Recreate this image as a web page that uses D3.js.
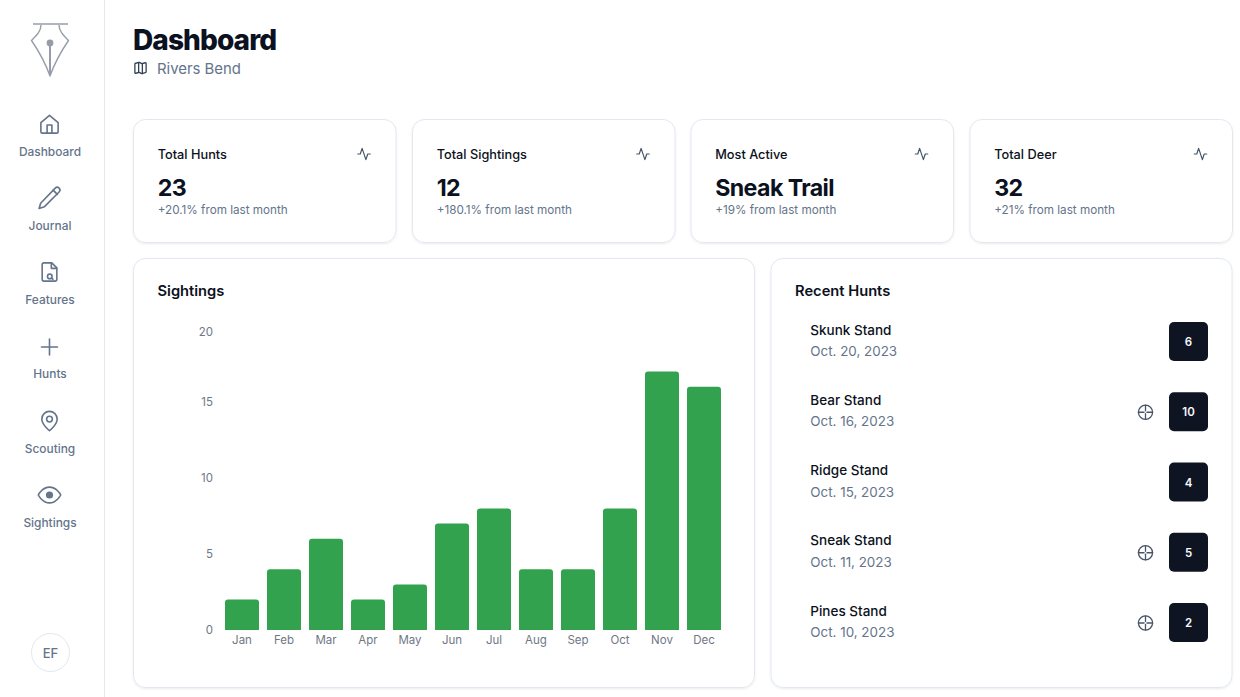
<!DOCTYPE html>
<html>
<head>
<meta charset="utf-8">
<title>Dashboard</title>
<script src="https://cdn.jsdelivr.net/npm/d3@7"></script>
<style>
  html, body { margin: 0; padding: 0; background: #fff; overflow: hidden; }
  text { font-family: Inter, "Noto Sans", sans-serif; }
</style>
</head>
<body>
<svg id="page" width="1240" height="697"></svg>
<script>
// Chart data
const months = ["Jan", "Feb", "Mar", "Apr", "May", "Jun", "Jul", "Aug", "Sep", "Oct", "Nov", "Dec"];
const sightings = [2, 4, 6, 2, 3, 7, 8, 4, 4, 8, 17, 16];
const yTicks = [0, 5, 10, 15, 20];

// Stat cards
const statTitles = ["Total Hunts", "Total Sightings", "Most Active", "Total Deer"];
const statValues = ["23", "12", "Sneak Trail", "32"];
const statNotes = ["+20.1% from last month", "+180.1% from last month", "+19% from last month", "+21% from last month"];

// Recent hunts
const huntNames = ["Skunk Stand", "Bear Stand", "Ridge Stand", "Sneak Stand", "Pines Stand"];
const huntDates = ["Oct. 20, 2023", "Oct. 16, 2023", "Oct. 15, 2023", "Oct. 11, 2023", "Oct. 10, 2023"];
const huntCounts = [6, 10, 4, 5, 2];
const huntHasTarget = [false, true, false, true, true];

// Sidebar
const navLabels = ["Dashboard", "Journal", "Features", "Hunts", "Scouting", "Sightings"];

const icons = {
    Dashboard: ["M3 10.5 12 3l9 7.5V20a1.5 1.5 0 0 1-1.5 1.5h-15A1.5 1.5 0 0 1 3 20z", "M9.500 21.5V13h5v8.5"],
    Journal: ["M17.5 2.5a2.6 2.6 0 0 1 3.7 3.7L7 20.5 2 22l1.5-5z", "M15.5 4.5l4 4"],
    Features: ["M14.5 2H6a2 2 0 0 0-2 2v16a2 2 0 0 0 2 2h12a2 2 0 0 0 2-2V7.5z", "M14 2v6h6", "M14.8 16.8a2.5 2.5 0 1 1-5 0 2.5 2.5 0 0 1 5 0z", "M14.2 18.6l1.6 1.4"],
    Hunts: ["M12 4v16", "M4 12h16"],
    Scouting: ["M20 10c0 6-8 12-8 12s-8-6-8-12a8 8 0 0 1 16 0z", "M15 10a3 3 0 1 1-6 0 3 3 0 0 1 6 0z"],
    Sightings: ["M2 12s3.6-7 10-7 10 7 10 7-3.6 7-10 7-10-7-10-7z"],
    activity: ["M22 12h-4l-3 9L9 3l-3 9H2"],
    map: ["M14.1 4.9 9.900 3 4.2 4.4A1.6 1.6 0 0 0 3 6v13.4c0 .7.7 1.2 1.4 1L9.900 19l4.2 1.9 5.7-1.4a1.6 1.6 0 0 0 1.2-1.5V4.6c0-.7-.7-1.2-1.4-1z", "M15 5v16", "M9 3v16"],
    target: ["M22 12a10 10 0 1 1-20 0 10 10 0 0 1 20 0z", "M22 12h-8", "M10 12H2", "M12 10V2", "M12 22v-8"]
};

const svg = d3.select("#page");

function drawIcon(parent, name, cx, cy, size, color, width) {
    const s = size / 24;
    const g = parent.append("g")
        .attr("transform", `translate(${cx - size / 2},${cy - size / 2}) scale(${s})`)
        .attr("fill", "none")
        .attr("stroke", color)
        .attr("stroke-width", width / s)
        .attr("stroke-linecap", "round")
        .attr("stroke-linejoin", "round");
    icons[name].forEach(d => g.append("path").attr("d", d));
    return g;
}

function addText(parent, str, x, y, size, weight, color, anchor) {
    return parent.append("text")
        .attr("x", x)
        .attr("y", y)
        .attr("font-size", size)
        .attr("font-weight", weight)
        .attr("fill", color)
        .attr("text-anchor", anchor || "start")
        .attr("dominant-baseline", "central")
        .text(str);
}

const defs = svg.append("defs");
const shadow = defs.append("filter").attr("id", "card-shadow")
    .attr("x", "-5%").attr("y", "-5%").attr("width", "110%").attr("height", "110%");
shadow.append("feDropShadow")
    .attr("dx", 0).attr("dy", 1).attr("stdDeviation", 1.2)
    .attr("flood-color", "#0f172a").attr("flood-opacity", 0.08);

function drawCard(x, y, w, h) {
    svg.append("rect")
        .attr("x", x).attr("y", y)
        .attr("width", w).attr("height", h)
        .attr("rx", 12)
        .attr("fill", "#fff")
        .attr("stroke", "#e2e8f0")
        .attr("filter", "url(#card-shadow)");
}

// Sidebar
svg.append("line")
    .attr("x1", 104.5).attr("x2", 104.5)
    .attr("y1", 0).attr("y2", 697)
    .attr("stroke", "#e2e8f0");

// Pen nib logo
const logo = svg.append("g")
    .attr("fill", "none")
    .attr("stroke", "#979da8")
    .attr("stroke-width", 1.4)
    .attr("stroke-linejoin", "round");
logo.append("path").attr("d", "M33 24H68");
logo.append("path").attr("d", "M41 25c0 6-4 10-9.500 15.500C38 50 45 62 50 76c5-14 12-26 18.500-35.500C63 35 59 31 59 25");
logo.append("path").attr("d", "M50 44V75").attr("stroke-width", 2);
logo.append("circle").attr("cx", 50).attr("cy", 43).attr("r", 3.4).attr("fill", "#979da8").attr("stroke", "none");

const navY = [124, 198, 272, 347, 421, 495];
const navLabelY = [151, 225, 299.5, 373.5, 448, 522];
const navIconSize = [23, 25, 22, 24, 23, 27];
navLabels.forEach((label, i) => {
    drawIcon(svg, label, 49.5, navY[i], navIconSize[i], "#64748b", 1.6);
    addText(svg, label, 50, navLabelY[i], 11.9, 500, "#64748b", "middle");
});
// eye pupil
svg.append("circle").attr("cx", 49.5).attr("cy", 495).attr("r", 3.6).attr("fill", "#64748b");

svg.append("circle").attr("cx", 50.5).attr("cy", 652.5).attr("r", 19)
    .attr("fill", "#fff").attr("stroke", "#e2e8f0");
addText(svg, "EF", 50.5, 653, 13, 500, "#64748b", "middle");

// Header
addText(svg, "Dashboard", 133, 40, 28, 800, "#0b1120").attr("letter-spacing", "-0.9");
drawIcon(svg, "map", 140.5, 68, 15, "#334155", 1.3);
addText(svg, "Rivers Bend", 157, 68.5, 14.9, 400, "#64748b");

// Stat cards
const cardX = [133.5, 412.5, 691, 970];
statTitles.forEach((title, i) => {
    const x = cardX[i];
    drawCard(x, 119.5, 262.5, 123);
    addText(svg, title, x + 24.2, 154.5, 12.75, 500, "#0b1120");
    drawIcon(svg, "activity", x + 230.5, 154, 15, "#475569", 1.2);
    addText(svg, statValues[i], x + 24.2, 187.5, 23.2, 700, "#0b1120").attr("letter-spacing", "-0.6");
    addText(svg, statNotes[i], x + 24.2, 210, 11.7, 400, "#64748b");
});

// Sightings bar chart
drawCard(133.5, 258.5, 621, 429);
addText(svg, "Sightings", 157.5, 290.5, 14.7, 600, "#0b1120");

const x = d3.scaleBand()
    .domain(months)
    .range([221, 725])
    .paddingInner(8 / 42)
    .paddingOuter(4 / 42);

const y = d3.scaleLinear()
    .domain([0, 20])
    .range([630, 326]);

const xAxis = svg.append("g")
    .attr("transform", "translate(0,630)")
    .call(d3.axisBottom(x).tickSize(0).tickPadding(6));
xAxis.select(".domain").remove();
xAxis.selectAll("text")
    .attr("font-size", 11.5)
    .attr("font-family", "Inter, sans-serif")
    .attr("fill", "#6f7785");

const yAxis = svg.append("g")
    .attr("transform", "translate(213,0)")
    .call(d3.axisLeft(y).tickValues(yTicks).tickSize(0).tickPadding(0));
yAxis.select(".domain").remove();
yAxis.selectAll("text")
    .attr("font-size", 11.5)
    .attr("font-family", "Inter, sans-serif")
    .attr("fill", "#6f7785");
// top label sits a little under its gridline position, as in the original
yAxis.selectAll(".tick").filter(d => d === 20).select("text").attr("dy", "0.8em");

svg.append("g")
    .selectAll("path")
    .data(months.map((m, i) => ({ month: m, value: sightings[i] })))
    .join("path")
    .attr("fill", "#33a24e")
    .attr("d", d => {
        const left = x(d.month), w = x.bandwidth(), top = y(d.value), r = 3;
        return `M${left},${y(0)}V${top + r}Q${left},${top} ${left + r},${top}H${left + w - r}Q${left + w},${top} ${left + w},${top + r}V${y(0)}Z`;
    });

// Recent hunts list
drawCard(771, 258.5, 461, 429);
addText(svg, "Recent Hunts", 795, 290.5, 14.7, 600, "#0b1120");

const rowY = d3.scalePoint().domain(d3.range(5)).range([341.5, 622.5]);
huntNames.forEach((name, i) => {
    const cy = rowY(i);
    addText(svg, name, 810.3, cy - 12, 13.5, 500, "#0b1120");
    addText(svg, huntDates[i], 810.3, cy + 9.5, 13.4, 400, "#64748b");
    if (huntHasTarget[i]) drawIcon(svg, "target", 1145.5, cy + 0.5, 17, "#475569", 1.3);
    svg.append("rect")
        .attr("x", 1169).attr("y", cy - 19.5)
        .attr("width", 39).attr("height", 39)
        .attr("rx", 5)
        .attr("fill", "#0f1423");
    addText(svg, huntCounts[i], 1188.5, cy + 0.5, 11.5, 600, "#f8fafc", "middle");
});
</script>
</body>
</html>
